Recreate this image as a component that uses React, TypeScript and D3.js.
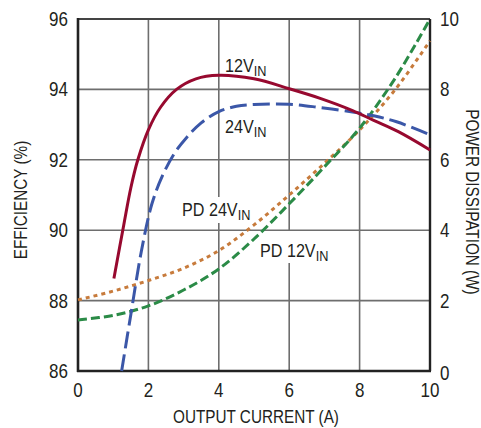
import React from "react";
import * as d3 from "d3";

// Output current (A) sample positions for each series
const current12 = [1.02, 1.3, 1.5, 1.7, 2.0, 2.35, 2.8, 3.35, 4, 5, 6, 6.9, 7.8, 8.4, 9.1, 10];
const eff12 = [88.63, 90.15, 91.2, 92.0, 92.85, 93.5, 94.0, 94.3, 94.4, 94.3, 94.02, 93.74, 93.4, 93.12, 92.8, 92.28];

const current24 = [1.24, 1.5, 1.8, 2.1, 2.4, 2.75, 3.1, 3.5, 4, 4.5, 5, 6, 6.9, 7.8, 8.4, 9.05, 10];
const eff24 = [86, 87.6, 89.4, 90.75, 91.55, 92.2, 92.65, 93.05, 93.37, 93.52, 93.57, 93.58, 93.48, 93.36, 93.25, 93.08, 92.71];

const currentPd24 = [0, 1, 2, 3, 4, 5, 6, 7, 8, 9, 10];
const pd24 = [2.02, 2.27, 2.57, 2.92, 3.42, 4.15, 5.0, 5.9, 6.85, 7.98, 9.38];

const currentPd12 = [0, 1, 2, 3, 4, 5, 6, 7, 8, 9, 10];
const pd12 = [1.45, 1.58, 1.85, 2.3, 2.9, 3.75, 4.75, 5.8, 6.9, 8.3, 10];

const xTicks = [0, 2, 4, 6, 8, 10];
const effTicks = [86, 88, 90, 92, 94, 96];
const pdTicks = [0, 2, 4, 6, 8, 10];

const FONT = "'Liberation Sans', Arial, sans-serif";
const SX = 0.85;
const textCol = "#231f20";

function Txt(props: { x: number; y: number; size: number; anchor?: string; rotate?: number; children: React.ReactNode }) {
  const { x, y, size, anchor = "start", rotate = 0, children } = props;
  return (
    <text
      transform={`translate(${x},${y}) rotate(${rotate}) scale(${SX},1)`}
      textAnchor={anchor}
      fontSize={size}
      fill={textCol}
      fontFamily={FONT}
    >
      {children}
    </text>
  );
}

export default function App() {
  const left = 78, top = 19, w = 352, h = 352;
  const x = d3.scaleLinear().domain([0, 10]).range([left, left + w]);
  const yE = d3.scaleLinear().domain([86, 96]).range([top + h, top]);
  const yP = d3.scaleLinear().domain([0, 10]).range([top + h, top]);

  const curve = d3.curveCatmullRom.alpha(0.5);
  const lineE = d3.line<[number, number]>().x(d => x(d[0])).y(d => yE(d[1])).curve(curve);
  const lineP = d3.line<[number, number]>().x(d => x(d[0])).y(d => yP(d[1])).curve(curve);

  const z = (a: number[], b: number[]) => a.map((v, i) => [v, b[i]] as [number, number]);

  const grid = "#6e6e6e";

  const label = (tx: number, ty: number, main: string, rect: [number, number, number, number]) => (
    <g>
      <rect x={rect[0]} y={rect[1]} width={rect[2]} height={rect[3]} fill="#fff" />
      <Txt x={tx} y={ty} size={19}>
        {main}
        <tspan fontSize={15} dy={4}>IN</tspan>
      </Txt>
    </g>
  );

  return (
    <svg width={481} height={428} style={{ position: "absolute", left: 0, top: 0, background: "#fff" }}>
      {/* grid */}
      {xTicks.slice(1, -1).map(t => (
        <line key={"gx" + t} x1={x(t)} x2={x(t)} y1={top} y2={top + h} stroke={grid} strokeWidth={1.6} />
      ))}
      {effTicks.slice(1, -1).map(t => (
        <line key={"gy" + t} x1={left} x2={left + w} y1={yE(t)} y2={yE(t)} stroke={grid} strokeWidth={1.6} />
      ))}
      {/* frame */}
      <line x1={left} x2={left + w} y1={top} y2={top} stroke="#444" strokeWidth={2} />
      <line x1={left + w} x2={left + w} y1={top} y2={top + h} stroke="#222" strokeWidth={2.4} />
      <line x1={left} x2={left} y1={top - 1} y2={top + h + 1} stroke="#222" strokeWidth={2.6} />
      <line x1={left - 1} x2={left + w + 1} y1={top + h} y2={top + h} stroke="#222" strokeWidth={2.6} />

      {/* curve labels */}
      {label(225, 72, "12V", [222, 54, 46, 24])}
      {label(225, 133, "24V", [222, 115, 46, 24])}
      {label(182, 216, "PD 24V", [178, 197, 80, 26])}
      {label(260, 257, "PD 12V", [256, 231, 76, 32])}

      {/* curves */}
      <path d={lineP(z(currentPd24, pd24)) || ""} fill="none" stroke="#c77b3c" strokeWidth={3} strokeDasharray="4 4" />
      <path d={lineP(z(currentPd12, pd12)) || ""} fill="none" stroke="#2b8b47" strokeWidth={3} strokeDasharray="9 4" />
      <path d={lineE(z(current24, eff24)) || ""} fill="none" stroke="#3b57a8" strokeWidth={3} strokeDasharray="17 6" />
      <path d={lineE(z(current12, eff12)) || ""} fill="none" stroke="#97092f" strokeWidth={3} />

      {/* tick labels */}
      {effTicks.map(t => (
        <Txt key={"le" + t} x={68} y={yE(t) + 7} size={20} anchor="end">{t}</Txt>
      ))}
      {pdTicks.map(t => (
        <Txt key={"lp" + t} x={440} y={yP(t) + 7 + (t === 0 ? 2 : 0)} size={20}>{t}</Txt>
      ))}
      {xTicks.map(t => (
        <Txt key={"lx" + t} x={x(t)} y={397} size={20} anchor="middle">{t}</Txt>
      ))}

      {/* axis titles */}
      <Txt x={256} y={423} size={18} anchor="middle">OUTPUT CURRENT (A)</Txt>
      <Txt x={27} y={200} size={18} anchor="middle" rotate={-90}>EFFICIENCY (%)</Txt>
      <Txt x={466} y={202} size={18} anchor="middle" rotate={90}>POWER DISSIPATION (W)</Txt>
    </svg>
  );
}
